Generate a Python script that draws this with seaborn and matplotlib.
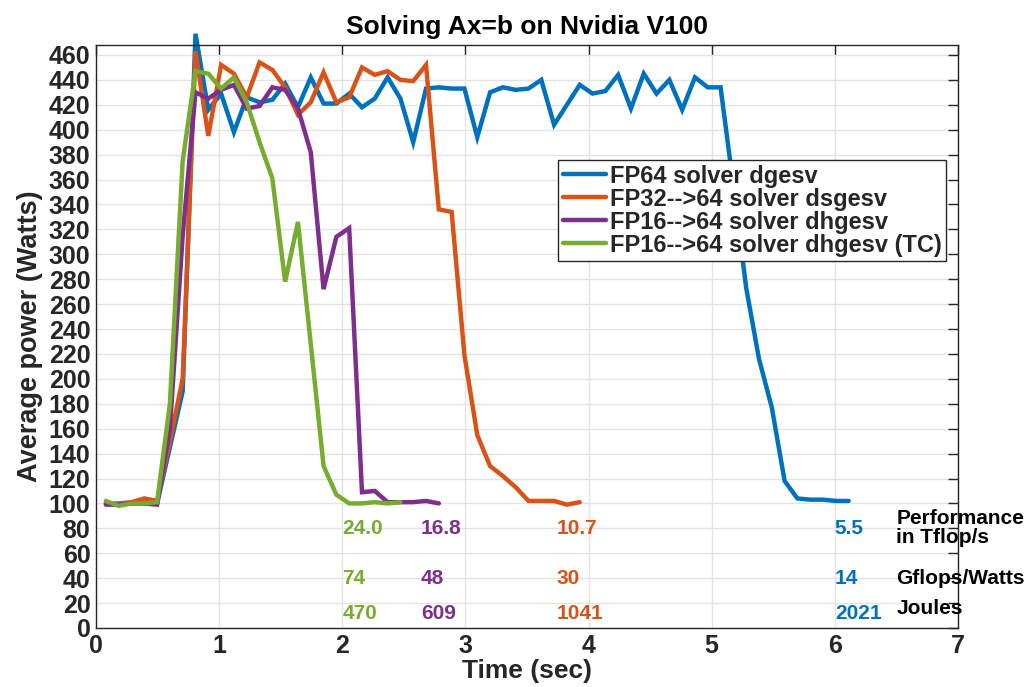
import numpy as np
import pandas as pd
import matplotlib
matplotlib.use("Agg")
import matplotlib.pyplot as plt
import seaborn as sns

# sample times (sec), shared by all runs; shorter runs use the first n
time_s = [0.08, 0.184, 0.288, 0.392, 0.496, 0.60, 0.704, 0.808, 0.912, 1.016,
          1.12, 1.224, 1.328, 1.432, 1.536, 1.64, 1.744, 1.848, 1.952, 2.056,
          2.16, 2.264, 2.368, 2.472, 2.576, 2.68, 2.784, 2.888, 2.992, 3.096,
          3.20, 3.304, 3.408, 3.512, 3.616, 3.72, 3.824, 3.928, 4.032, 4.136,
          4.24, 4.344, 4.448, 4.552, 4.656, 4.76, 4.864, 4.968, 5.072, 5.176,
          5.28, 5.384, 5.488, 5.592, 5.696, 5.80, 5.904, 6.008, 6.112]

# average power (Watts)
fp64_dgesv = [100, 99, 100, 100, 100, 145, 190, 477, 416, 429,
              398, 426, 422, 424, 437, 418, 442, 421, 421, 429,
              418, 425, 442, 425, 390, 433, 434, 433, 433, 394,
              430, 434, 432, 433, 440, 404, 420, 436, 429, 431,
              444, 417, 445, 429, 440, 416, 442, 434, 434, 355,
              273, 216, 177, 118, 104, 103, 103, 102, 102]
fp32_dsgesv = [100, 100, 101, 104, 102, 150, 200, 463, 395, 452,
               445, 426, 454, 448, 434, 412, 422, 446, 422, 426,
               450, 444, 447, 440, 439, 452, 336, 334, 219, 155,
               130, 122, 113, 102, 102, 102, 99, 101]
fp16_dhgesv = [99, 99, 100, 100, 99, 160, 315, 430, 425, 432,
               436, 417, 419, 434, 432, 417, 382, 272, 314, 321,
               109, 110, 101, 101, 101, 102, 100]
fp16_dhgesv_tc = [102, 98, 100, 100, 101, 180, 375, 447, 445, 433,
                  442, 422, 390, 361, 278, 326, 228, 130, 107, 100,
                  100, 101, 100, 101]

labels = ["FP64 solver dgesv", "FP32-->64 solver dsgesv",
          "FP16-->64 solver dhgesv", "FP16-->64 solver dhgesv (TC)"]
colors = ["#0072BD", "#D95319", "#7E2F8E", "#77AC30"]

# per-solver results, ordered TC, dhgesv, dsgesv, dgesv
perf_tflops = ["24.0", "16.8", "10.7", "5.5"]
gflops_watt = ["74", "48", "30", "14"]
joules = ["470", "609", "1041", "2021"]
result_colors = ["#77AC30", "#7E2F8E", "#D95319", "#0072BD"]
result_x = [2.0, 2.64, 3.74, 6.0]

sns.set_theme(style="white")
plt.rcParams["font.family"] = ["Liberation Sans", "DejaVu Sans"]
plt.rcParams["font.weight"] = "bold"
plt.rcParams["axes.labelweight"] = "bold"
plt.rcParams["axes.titleweight"] = "bold"

dark = "#262626"
fig = plt.figure(figsize=(10.3, 6.87), dpi=100)
ax = fig.add_axes([0.0932, 0.0859, 0.8369, 0.8486])

series = [fp64_dgesv, fp32_dsgesv, fp16_dhgesv, fp16_dhgesv_tc]
for vals, lab, col in zip(series, labels, colors):
    df = pd.DataFrame({"time": time_s[:len(vals)], "power": vals})
    sns.lineplot(data=df, x="time", y="power", color=col, linewidth=3.2,
                 label=lab, ax=ax, solid_joinstyle="miter", clip_on=False)

ax.set_xlim(0, 7)
ax.set_ylim(0, 468)
ax.set_xticks(np.arange(0, 8, 1))
ax.set_yticks(np.arange(0, 461, 20))
ax.set_axisbelow(True)
ax.grid(True, color="#e3e3e3", linewidth=1)
ax.tick_params(direction="in", length=7, width=1, top=True, right=True,
               labelsize=18, colors=dark, pad=4)
for s in ax.spines.values():
    s.set_visible(True)
    s.set_color(dark)
    s.set_linewidth(1)

ax.set_title("Solving Ax=b on Nvidia V100", fontsize=19, color="black", pad=8)
ax.set_xlabel("Time (sec)", fontsize=19, color=dark, labelpad=1)
ax.set_ylabel("Average power (Watts)", fontsize=19.5, color=dark, labelpad=4)

for i in range(4):
    ax.text(result_x[i], 80, perf_tflops[i], color=result_colors[i], fontsize=15,
            ha="left", va="center")
    ax.text(result_x[i], 40, gflops_watt[i], color=result_colors[i], fontsize=15,
            ha="left", va="center")
    ax.text(result_x[i], 12, joules[i], color=result_colors[i], fontsize=15,
            ha="left", va="center")
ax.text(6.5, 80, "Performance\nin Tflop/s", color="black", fontsize=15,
        ha="left", va="center", linespacing=1.0, clip_on=False)
ax.text(6.5, 40, "Gflops/Watts", color="black", fontsize=15, ha="left", va="center")
ax.text(6.5, 16, "Joules", color="black", fontsize=15, ha="left", va="center")

leg = ax.legend(loc="upper left", bbox_to_anchor=(0.536, 0.803),
                prop={"weight": "bold", "size": 17}, handlelength=1.85,
                handletextpad=0.15, labelspacing=0.0, borderpad=0.2,
                borderaxespad=0, fancybox=False, framealpha=1, edgecolor=dark)
leg.get_frame().set_linewidth(1)

fig.savefig("out.png", dpi=100)
